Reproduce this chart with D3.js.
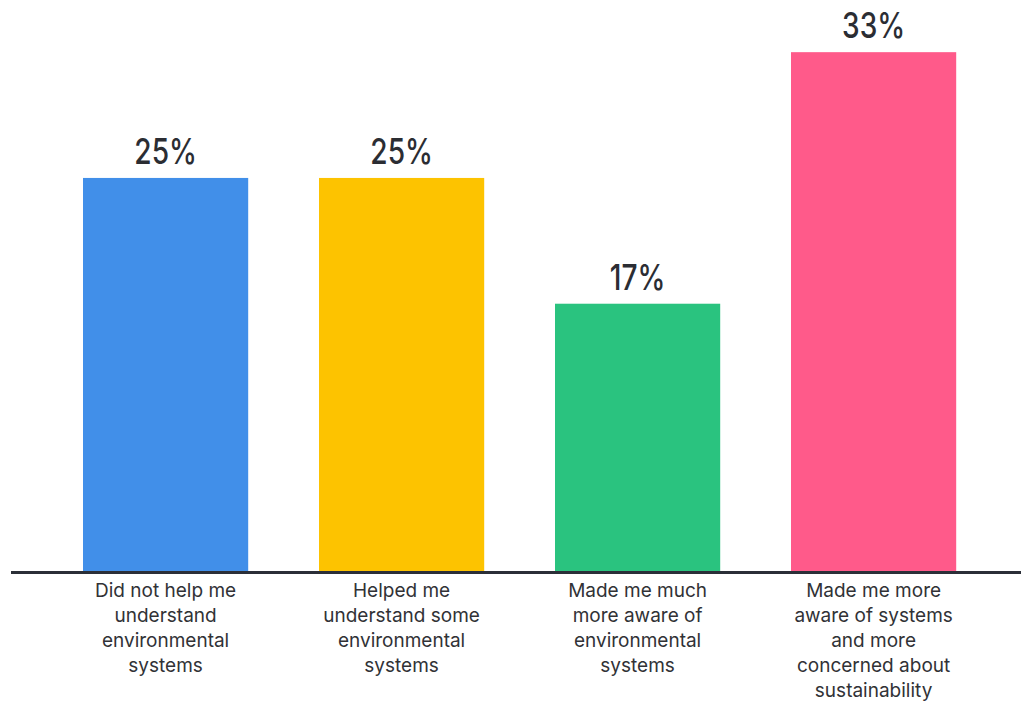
<!DOCTYPE html>
<html>
<head>
<meta charset="utf-8">
<script src="https://cdn.jsdelivr.net/npm/d3@7"></script>
<style>
  html, body { margin: 0; padding: 0; background: #ffffff; }
  svg { display: block; }
</style>
</head>
<body>
<svg id="chart" width="1021" height="702"></svg>
<script>
// Survey responses: share of respondents per answer
const categories = [
  ["Did not help me", "understand", "environmental", "systems"],
  ["Helped me", "understand some", "environmental", "systems"],
  ["Made me much", "more aware of", "environmental", "systems"],
  ["Made me more", "aware of systems", "and more", "concerned about", "sustainability"]
];
const values = [25, 25, 17, 33];
const valueLabels = ["25%", "25%", "17%", "33%"];
const colors = ["#418fe9", "#fdc300", "#2ac37f", "#ff5a8a"];

const svg = d3.select("#chart");
const W = 1021, H = 702;
const baseY = 571;

const x = d3.scaleBand()
  .domain(d3.range(values.length))
  .range([47.6, 991.6])
  .paddingInner(0.3)
  .paddingOuter(0.15);

const y = d3.scaleLinear()
  .domain([0, 36])
  .range([baseY, 5]);

// bars
svg.append("g")
  .selectAll("rect")
  .data(values)
  .join("rect")
  .attr("x", (d, i) => x(i))
  .attr("y", d => y(d))
  .attr("width", x.bandwidth())
  .attr("height", d => y(0) - y(d))
  .attr("fill", (d, i) => colors[i]);

// value labels above bars (narrowed display type)
svg.append("g")
  .selectAll("text")
  .data(values)
  .join("text")
  .attr("transform", (d, i) =>
    `translate(${x(i) + x.bandwidth() / 2},${y(d) - 14}) scale(0.78,1)`)
  .attr("text-anchor", "middle")
  .attr("font-family", "Inter, 'Noto Sans', sans-serif")
  .attr("font-weight", 500)
  .attr("font-size", 36)
  .attr("fill", "#2b2d33")
  .text((d, i) => valueLabels[i]);

// baseline axis
svg.append("line")
  .attr("x1", 11)
  .attr("x2", W)
  .attr("y1", baseY + 1.5)
  .attr("y2", baseY + 1.5)
  .attr("stroke", "#2b2f38")
  .attr("stroke-width", 3);

// category labels, one tspan per line
const cat = svg.append("g")
  .selectAll("text")
  .data(categories)
  .join("text")
  .attr("text-anchor", "middle")
  .attr("font-family", "Inter, 'Noto Sans', sans-serif")
  .attr("font-size", 19)
  .attr("fill", "#313236");

cat.selectAll("tspan")
  .data((lines, i) => lines.map(t => ({ t, i })))
  .join("tspan")
  .attr("x", d => x(d.i) + x.bandwidth() / 2)
  .attr("y", (d, j) => 597 + j * 25)
  .text(d => d.t);
</script>
</body>
</html>
